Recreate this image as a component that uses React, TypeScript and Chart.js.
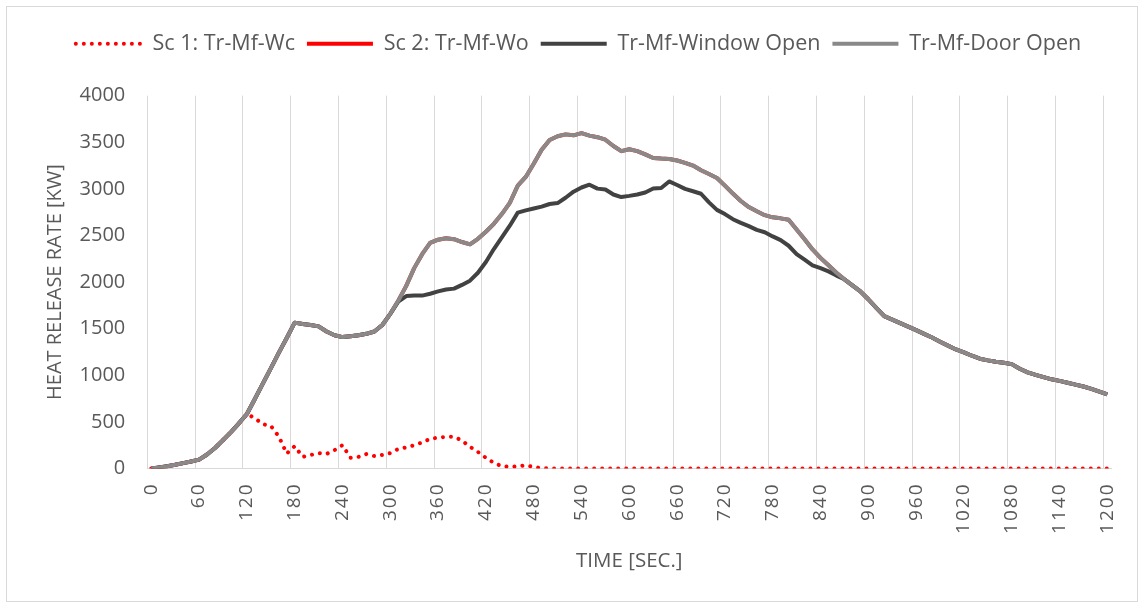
import React, { useEffect, useRef } from 'react';
import { Chart, registerables } from 'chart.js';

Chart.register(...registerables);

// Time categories (seconds), one every 10 s
const timeLabels: string[] = [
  '0', '10', '20', '30', '40', '50', '60', '70', '80', '90',
  '100', '110', '120', '130', '140', '150', '160', '170', '180', '190',
  '200', '210', '220', '230', '240', '250', '260', '270', '280', '290',
  '300', '310', '320', '330', '340', '350', '360', '370', '380', '390',
  '400', '410', '420', '430', '440', '450', '460', '470', '480', '490',
  '500', '510', '520', '530', '540', '550', '560', '570', '580', '590',
  '600', '610', '620', '630', '640', '650', '660', '670', '680', '690',
  '700', '710', '720', '730', '740', '750', '760', '770', '780', '790',
  '800', '810', '820', '830', '840', '850', '860', '870', '880', '890',
  '900', '910', '920', '930', '940', '950', '960', '970', '980', '990',
  '1000', '1010', '1020', '1030', '1040', '1050', '1060', '1070', '1080', '1090',
  '1100', '1110', '1120', '1130', '1140', '1150', '1160', '1170', '1180', '1190',
  '1200',
];

// Labels shown on the time axis
const shownTickLabels: string[] = [
  '0', '60', '120', '180', '240', '300', '360', '420', '480', '540', '600',
  '660', '720', '780', '840', '900', '960', '1020', '1080', '1140', '1200',
];

const yTicks = { min: 0, max: 4000, step: 500 };

const seriesNames: string[] = [
  'Sc 1: Tr-Mf-Wc',
  'Sc 2: Tr-Mf-Wo',
  'Tr-Mf-Window Open',
  'Tr-Mf-Door Open',
];

const sc1Wc: number[] = [
  0, 12, 25, 40, 58, 75, 95, 150, 220, 305,
  390, 485, 585, 540, 475, 458, 345, 160, 240, 125,
  145, 165, 157, 197, 250, 115, 125, 155, 134, 145,
  165, 210, 227, 250, 280, 318, 331, 340, 340, 300,
  233, 178, 115, 60, 25, 18, 22, 35, 15, 5,
  0, 0, 0, 0, 0, 0, 0, 0, 0, 0,
  0, 0, 0, 0, 0, 0, 0, 0, 0, 0,
  0, 0, 0, 0, 0, 0, 0, 0, 0, 0,
  0, 0, 0, 0, 0, 0, 0, 0, 0, 0,
  0, 0, 0, 0, 0, 0, 0, 0, 0, 0,
  0, 0, 0, 0, 0, 0, 0, 0, 0, 0,
  0, 0, 0, 0, 0, 0, 0, 0, 0, 0,
  0,
];

// Hidden underneath "Door Open" in the reference
const sc2Wo: number[] = [
  0, 12, 25, 40, 58, 75, 95, 150, 220, 305,
  390, 485, 585, 745, 910, 1075, 1240, 1400, 1565, 1550,
  1540, 1525, 1470, 1430, 1410, 1420, 1430, 1445, 1470, 1540,
  1660, 1800, 1960, 2150, 2300, 2420, 2455, 2470, 2460, 2430,
  2405, 2465, 2540, 2625, 2730, 2850, 3035, 3128, 3270, 3420,
  3525, 3565, 3585, 3575, 3598, 3572, 3555, 3528, 3460, 3405,
  3425, 3405, 3370, 3332, 3325, 3320, 3305, 3280, 3250, 3200,
  3160, 3117, 3035, 2950, 2870, 2805, 2760, 2718, 2695, 2684,
  2670, 2565, 2460, 2350, 2260, 2180, 2100, 2030, 1965, 1900,
  1816, 1723, 1635, 1598, 1560, 1522, 1485, 1445, 1405, 1360,
  1318, 1277, 1245, 1210, 1178, 1160, 1145, 1135, 1120, 1070,
  1032, 1005, 980, 957, 940, 920, 900, 880, 855, 825,
  795,
];

const windowOpen: number[] = [
  0, 12, 25, 40, 58, 75, 95, 150, 220, 305,
  390, 485, 585, 745, 910, 1075, 1240, 1400, 1565, 1550,
  1540, 1525, 1470, 1430, 1410, 1420, 1430, 1445, 1470, 1540,
  1660, 1790, 1850, 1855, 1855, 1875, 1900, 1920, 1930, 1970,
  2015, 2100, 2215, 2355, 2480, 2605, 2745, 2770, 2790, 2810,
  2838, 2848, 2905, 2970, 3015, 3045, 3003, 2994, 2940, 2912,
  2925, 2940, 2962, 3004, 3010, 3080, 3042, 3000, 2975, 2948,
  2855, 2775, 2730, 2675, 2635, 2600, 2560, 2535, 2490, 2450,
  2390, 2300, 2240, 2180, 2150, 2115, 2070, 2030, 1965, 1900,
  1816, 1723, 1635, 1598, 1560, 1522, 1485, 1445, 1405, 1360,
  1318, 1277, 1245, 1210, 1178, 1160, 1145, 1135, 1120, 1070,
  1032, 1005, 980, 957, 940, 920, 900, 880, 855, 825,
  795,
];

const doorOpen: number[] = [
  0, 12, 25, 40, 58, 75, 95, 150, 220, 305,
  390, 485, 585, 745, 910, 1075, 1240, 1400, 1565, 1550,
  1540, 1525, 1470, 1430, 1410, 1420, 1430, 1445, 1470, 1540,
  1660, 1800, 1960, 2150, 2300, 2420, 2455, 2470, 2460, 2430,
  2405, 2465, 2540, 2625, 2730, 2850, 3035, 3128, 3270, 3420,
  3525, 3565, 3585, 3575, 3598, 3572, 3555, 3528, 3460, 3405,
  3425, 3405, 3370, 3332, 3325, 3320, 3305, 3280, 3250, 3200,
  3160, 3117, 3035, 2950, 2870, 2805, 2760, 2718, 2695, 2684,
  2670, 2565, 2460, 2350, 2260, 2180, 2100, 2030, 1965, 1900,
  1816, 1723, 1635, 1598, 1560, 1522, 1485, 1445, 1405, 1360,
  1318, 1277, 1245, 1210, 1178, 1160, 1145, 1135, 1120, 1070,
  1032, 1005, 980, 957, 940, 920, 900, 880, 855, 825,
  795,
];

const FONT = "'Open Sans', 'DejaVu Sans', sans-serif";
const TEXT = '#595959';
const GRID = '#d9d9d9';

const xLabelSpacing = {
  id: 'xLabelSpacing',
  beforeDraw(chart: any) {
    const sc = chart.scales.x;
    if (sc && !sc.__spaced) {
      const orig = sc.drawLabels.bind(sc);
      sc.drawLabels = (area: any) => {
        const ctx = chart.ctx;
        ctx.save();
        (ctx as any).letterSpacing = '2px';
        orig(area);
        ctx.restore();
      };
      sc.__spaced = true;
    }
  },
};

export default function App() {
  const ref = useRef<HTMLCanvasElement>(null);

  useEffect(() => {
    if (!ref.current) return;
    const chart = new Chart(ref.current, {
      type: 'line',
      data: {
        labels: timeLabels,
        datasets: [
          {
            label: seriesNames[0],
            data: sc1Wc,
            borderColor: '#ff0000',
            backgroundColor: '#ff0000',
            borderWidth: 4,
            borderDash: [0.01, 8],
            borderCapStyle: 'round',
            pointRadius: 0,
            tension: 0,
            order: 4,
          },
          {
            label: seriesNames[1],
            data: sc2Wo,
            borderColor: '#ff0000',
            backgroundColor: '#ff0000',
            borderWidth: 4,
            pointRadius: 0,
            tension: 0,
            borderJoinStyle: 'round',
            order: 3,
          },
          {
            label: seriesNames[2],
            data: windowOpen,
            borderColor: '#424242',
            backgroundColor: '#424242',
            borderWidth: 4,
            pointRadius: 0,
            tension: 0,
            borderJoinStyle: 'round',
            order: 2,
          },
          {
            label: seriesNames[3],
            data: doorOpen,
            borderColor: '#898989',
            backgroundColor: '#898989',
            borderWidth: 4,
            pointRadius: 0,
            tension: 0,
            borderJoinStyle: 'round',
            order: 1,
          },
        ],
      },
      options: {
        responsive: false,
        devicePixelRatio: 1,
        animation: false,
        events: [],
        layout: { padding: { left: 45.7, right: 29.7, top: 21, bottom: 10 } },
        plugins: {
          tooltip: { enabled: false },
          title: {
            display: true,
            text: '',
            weight: 500,
            position: 'top',
            font: { size: 1 },
            padding: { top: 30, bottom: 0 },
          } as any,
          legend: {
            display: true,
            position: 'top',
            labels: {
              usePointStyle: true,
              pointStyle: 'line',
              pointStyleWidth: 66,
              padding: 12,
              color: TEXT,
              font: { family: FONT, size: 21.5 },
              generateLabels: (c: any) =>
                c.data.datasets.map((ds: any, i: number) => ({
                  text: ds.label,
                  fillStyle: ds.borderColor,
                  strokeStyle: ds.borderColor,
                  lineWidth: ds.borderWidth,
                  lineDash: ds.borderDash || [],
                  lineCap: ds.borderCapStyle || 'butt',
                  pointStyle: 'line',
                  hidden: false,
                  fontColor: TEXT,
                  datasetIndex: i,
                })),
            },
          },
        },
        scales: {
          x: {
            type: 'category',
            offset: true,
            grid: {
              display: true,
              offset: true,
              drawTicks: false,
              lineWidth: 1,
              color: (ctx: any) =>
                ctx.index !== undefined &&
                ctx.index < timeLabels.length &&
                shownTickLabels.includes(timeLabels[ctx.index])
                  ? GRID
                  : 'rgba(0,0,0,0)',
            },
            border: { display: true, color: GRID, width: 1 },
            ticks: {
              autoSkip: false,
              minRotation: 90,
              maxRotation: 90,
              padding: 14,
              color: TEXT,
              font: { family: FONT, size: 19 },
              callback: (_v: any, index: number) =>
                shownTickLabels.includes(timeLabels[index]) ? timeLabels[index] : '',
            },
            title: {
              display: true,
              text: 'TIME [SEC.]',
              color: TEXT,
              font: { family: FONT, size: 20.5 },
              padding: { top: 0, bottom: 22 },
            },
            afterFit: (s: any) => {
              s.height = 605 - 10 - 468.5;
              s.paddingLeft = 0;
              s.paddingRight = 0;
            },
          },
          y: {
            type: 'linear',
            min: yTicks.min,
            max: yTicks.max,
            grid: { display: false, drawTicks: false },
            border: { display: false },
            ticks: {
              stepSize: yTicks.step,
              padding: 22,
              color: TEXT,
              font: { family: FONT, size: 20 },
              callback: (v: any) => String(v),
            },
            title: {
              display: true,
              text: 'HEAT RELEASE RATE [KW]',
              color: TEXT,
              font: { family: FONT, size: 20 },
              padding: { top: -2, bottom: 0 },
            },
            afterFit: (s: any) => {
              s.width = 147.3 - 45.7;
            },
          },
        },
      } as any,
      plugins: [xLabelSpacing],
    });
    return () => chart.destroy();
  }, []);

  return (
    <div
      style={{
        position: 'fixed',
        left: 0,
        top: 0,
        width: 1141,
        height: 605,
        background: '#ffffff',
        overflow: 'hidden',
      }}
    >
      <div
        style={{
          position: 'absolute',
          left: 6,
          top: 6,
          width: 1132,
          height: 596,
          border: '1px solid #d9d9d9',
          boxSizing: 'border-box',
        }}
      />
      <canvas
        ref={ref}
        width={1141}
        height={605}
        style={{ position: 'absolute', left: 0, top: 0, width: 1141, height: 605 }}
      />
    </div>
  );
}
